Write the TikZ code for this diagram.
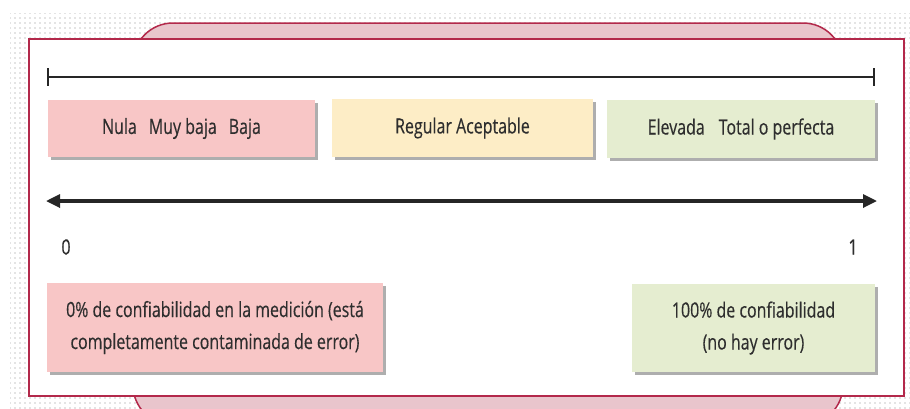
\documentclass[tikz,border=0pt]{standalone}
\usepackage{fontspec}
\setmainfont{Open Sans}[FakeStretch=0.76, FakeBold=0.35]
\usetikzlibrary{arrows.meta,shadows,patterns.meta}
\definecolor{crimson}{HTML}{B3294B}
\definecolor{tabpink}{HTML}{E9C5CC}
\definecolor{boxpink}{HTML}{F8C6C6}
\definecolor{boxyellow}{HTML}{FDEDC6}
\definecolor{boxgreen}{HTML}{E5EDD0}
\definecolor{ink}{HTML}{2E2E2E}
\tikzset{
  scalebox/.style={fill=#1, draw=none, inner sep=0pt, text=ink,
    font=\fontsize{21}{32}\selectfont, align=center,
    drop shadow={shadow xshift=2.5pt, shadow yshift=-3pt, opacity=0.45, fill=black!70}},
  bar/.style={line width=2.8pt, draw=black!85},
  ticklabel/.style={text=ink, font=\fontsize{21}{22}\selectfont, inner sep=0pt}
}
\begin{document}
\begin{tikzpicture}[x=1pt, y=-1pt]
\useasboundingbox (0,0) rectangle (910,408);
\clip (0,0) rectangle (910,408);
% dotted backdrop
\fill[pattern={Dots[distance=5pt, radius=0.6pt]}, pattern color=black!45]
  (10,13) rectangle (910,408);
% rounded tab behind the panel
\draw[fill=tabpink, draw=crimson, line width=1.5pt, rounded corners=40pt]
  (133,23) rectangle (843,425);
% main panel
\draw[fill=white, draw=crimson, line width=2.4pt] (29,39) rectangle (904,396);
% upper scale line with end bars
\coordinate (sl) at (48,77);
\coordinate (sr) at (874,77);
\draw[bar] (sl) -- (sr);
\draw[bar] (48,68) -- (48,86);
\draw[bar] (874,68) -- (874,86);
% category boxes
\node[scalebox=boxpink, minimum width=267pt, minimum height=57pt] (low) at (181.5,128.5)
  {Nula\hspace{12pt}Muy baja\hspace{12pt}Baja};
\node[scalebox=boxyellow, minimum width=261pt, minimum height=58pt] (mid) at (462.5,128)
  {Regular Aceptable};
\node[scalebox=boxgreen, minimum width=268pt, minimum height=58pt] (high) at (741,129)
  {Elevada\hspace{14pt}Total o perfecta};
% double-headed axis
\coordinate (al) at (46,201);
\coordinate (ar) at (877,201);
\draw[bar, line width=3.2pt, {Triangle[length=14pt,width=13pt]}-{Triangle[length=14pt,width=13pt]}] (al) -- (ar);
\node[ticklabel] (zero) at (66,247) {0};
\node[ticklabel] (one) at (853,247) {1};
% end-point descriptions
\node[scalebox=boxpink, minimum width=336pt, minimum height=89pt] (none) at (215,327.5)
  {0\% de confiabilidad en la medición (está\\completamente contaminada de error)};
\node[scalebox=boxgreen, minimum width=243pt, minimum height=88pt] (full) at (753.5,328)
  {100\% de confiabilidad\\(no hay error)};
\end{tikzpicture}
\end{document}
